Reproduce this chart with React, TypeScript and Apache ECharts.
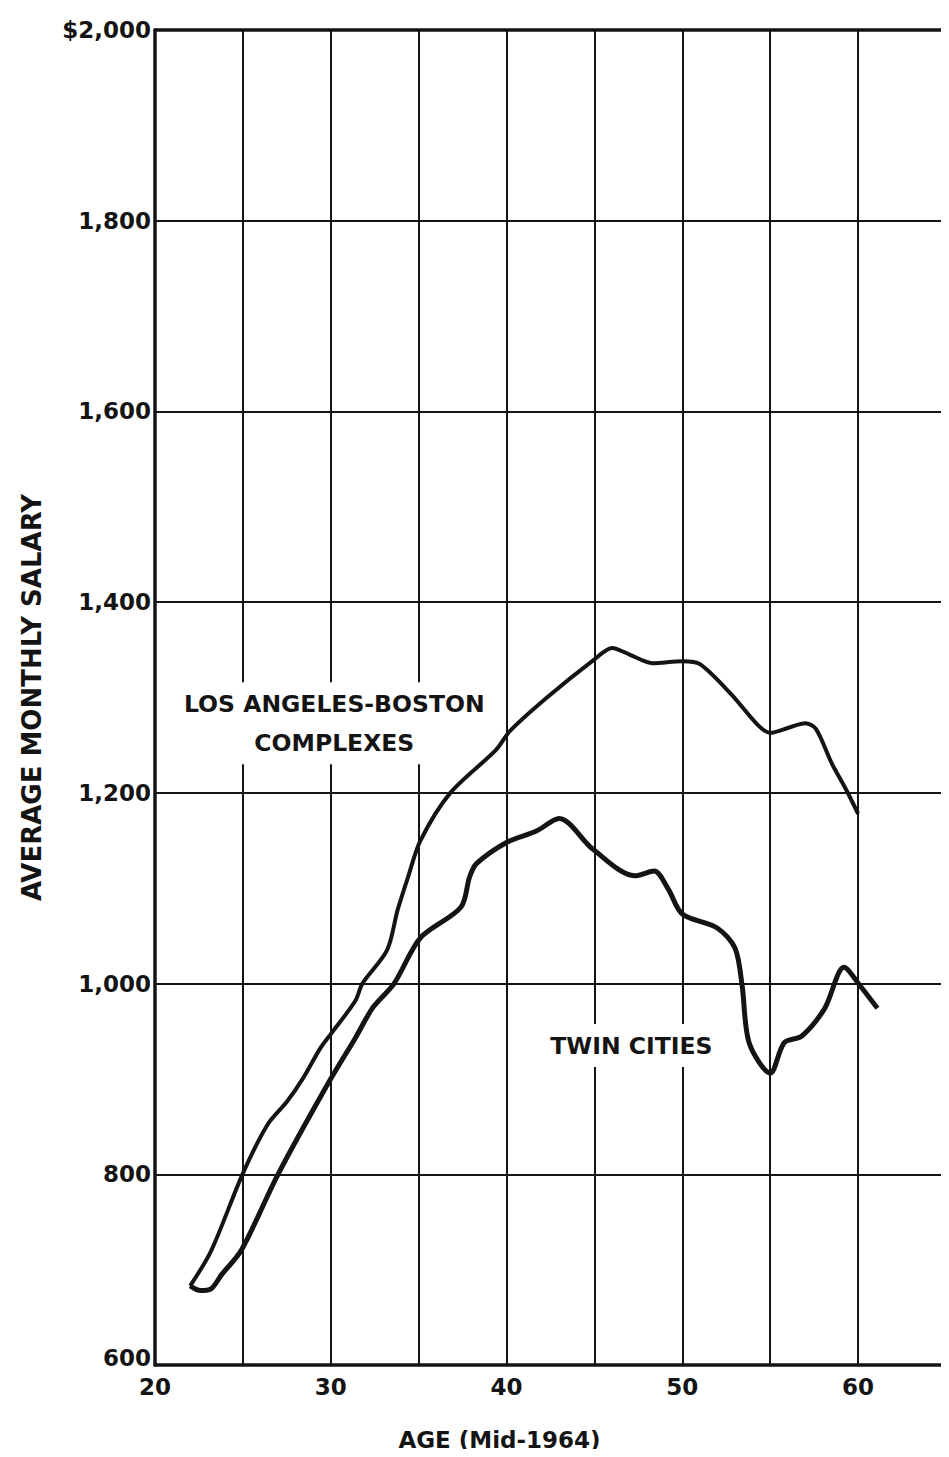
import React, { useEffect, useRef } from "react";
import * as echarts from "echarts";

// Los Angeles-Boston complexes: [age, average monthly salary]
const laBostonAges = [22.0, 23.2, 25.0, 26.4, 27.5, 28.4, 29.4, 30.0, 31.4, 31.8, 33.2, 33.8, 34.4, 35.1, 36.8, 39.4, 40.2, 42.3, 45.0, 46.0, 47.0, 48.3, 50.0, 51.0, 52.8, 54.3, 55.0, 56.0, 57.0, 57.6, 58.5, 59.3, 60.0];
const laBostonSalary = [683, 720, 801, 852, 876, 900, 932, 947, 982, 1000, 1035, 1077, 1112, 1150, 1200, 1245, 1265, 1300, 1340, 1352, 1345, 1336, 1338, 1335, 1303, 1271, 1263, 1268, 1273, 1267, 1231, 1204, 1178];

// Twin Cities
const twinAges = [22.0, 22.6, 23.2, 23.8, 24.9, 27.0, 29.9, 31.4, 32.4, 33.6, 35.1, 37.4, 37.9, 38.3, 40.0, 41.7, 43.0, 44.9, 47.3, 48.4, 49.2, 50.0, 52.0, 53.0, 53.4, 53.8, 55.0, 55.8, 56.8, 58.1, 59.2, 60.1, 61.1];
const twinSalary = [683, 678, 680, 695, 720, 800, 897, 943, 975, 1000, 1048, 1080, 1112, 1126, 1148, 1160, 1173, 1141, 1113, 1118, 1099, 1073, 1058, 1037, 998, 938, 906, 938, 945, 974, 1017, 998, 974];

// Axis settings
const xMin = 20;
const xMax = 65;
const xInterval = 5;
const xLabelEvery = 10;
const yMin = 600;
const yMax = 2000;
const yInterval = 200;

const xAxisTitle = "AGE (Mid-1964)";
const xAxisTitleAge = 39.6;
const yAxisTitle = "AVERAGE MONTHLY SALARY";

// Annotations: [text, age, salary]
const annotationTexts = ["LOS ANGELES-BOSTON\nCOMPLEXES", "TWIN CITIES"];
const annotationAges = [30.2, 47.1];
const annotationValues = [1273, 935];

const FONT = "DejaVu Sans";
const INK = "#141414";

export default function App() {
  const ref = useRef<HTMLDivElement>(null);

  useEffect(() => {
    if (!ref.current) return;
    const chart = echarts.init(ref.current, undefined, { renderer: "svg" });

    const la = laBostonAges.map((a, i) => [a, laBostonSalary[i]]);
    const tw = twinAges.map((a, i) => [a, twinSalary[i]]);

    chart.setOption({
      animation: false,
      backgroundColor: "#ffffff",
      grid: {
        left: 155,
        right: 1,
        top: 30,
        bottom: 92,
        show: true,
        borderColor: INK,
        borderWidth: 2,
      },
      xAxis: [
        {
          type: "value",
          min: xMin,
          max: xMax,
          interval: xInterval,
          axisLine: { show: true, onZero: false, lineStyle: { color: INK, width: 3.5 } },
          axisTick: { show: false },
          splitLine: { show: true, lineStyle: { color: INK, width: 2 } },
          axisLabel: {
            margin: 10,
            color: INK,
            fontFamily: FONT,
            fontWeight: "bold",
            fontSize: 23,
            formatter: (v: number) => (v % xLabelEvery === 0 && v < xMax ? String(v) : ""),
          },
        },
        {
          type: "value",
          position: "top",
          min: xMin,
          max: xMax,
          axisLine: { show: true, lineStyle: { color: INK, width: 3.5 } },
          axisTick: { show: false },
          axisLabel: { show: false },
          splitLine: { show: false },
        },
      ],
      yAxis: {
        type: "value",
        min: yMin,
        max: yMax,
        interval: yInterval,
        name: yAxisTitle,
        nameLocation: "middle",
        nameGap: 110,
        nameTextStyle: {
          color: INK,
          fontFamily: FONT,
          fontWeight: "bold",
          fontSize: 26,
        },
        axisLine: { show: true, lineStyle: { color: INK, width: 3.5 } },
        axisTick: { show: false },
        splitLine: { show: true, lineStyle: { color: INK, width: 2 } },
        axisLabel: {
          margin: 4,
          color: INK,
          fontFamily: FONT,
          fontWeight: "bold",
          fontSize: 23,
          formatter: (v: number) => {
            const s = (v === yMax ? "$" : "") + v.toLocaleString("en-US");
            return v === yMin ? "{low|" + s + "}" : s;
          },
          rich: {
            low: {
              color: INK,
              fontFamily: FONT,
              fontWeight: "bold",
              fontSize: 23,
              padding: [0, 0, 14, 0],
            },
          },
        },
      },
      series: [
        {
          name: "Los Angeles-Boston Complexes",
          type: "line",
          data: la,
          smooth: 0.3,
          showSymbol: false,
          z: 5,
          lineStyle: { color: INK, width: 4 },
        },
        {
          name: "Twin Cities",
          type: "line",
          data: tw,
          smooth: 0.3,
          showSymbol: false,
          z: 5,
          lineStyle: { color: INK, width: 5 },
        },
      ],
    });

    const graphics: any[] = annotationTexts.map((t, i) => {
      const p = chart.convertToPixel({ gridIndex: 0 }, [annotationAges[i], annotationValues[i]]) as number[];
      return {
        type: "text",
        x: p[0],
        y: p[1],
        z: 1,
        style: {
          text: t,
          fill: INK,
          font: `bold 23.5px "${FONT}"`,
          align: "center",
          verticalAlign: "middle",
          lineHeight: 39,
          backgroundColor: "#ffffff",
          padding: [2, 6],
        },
      };
    });
    const titlePos = chart.convertToPixel({ gridIndex: 0 }, [xAxisTitleAge, yMin]) as number[];
    graphics.push({
      type: "text",
      x: titlePos[0],
      y: titlePos[1] + 75,
      style: {
        text: xAxisTitle,
        fill: INK,
        font: `bold 23px "${FONT}"`,
        align: "center",
        verticalAlign: "middle",
      },
    });
    chart.setOption({ graphic: graphics });

    return () => chart.dispose();
  }, []);

  return <div ref={ref} style={{ width: 949, height: 1457, margin: -8 }} />;
}
